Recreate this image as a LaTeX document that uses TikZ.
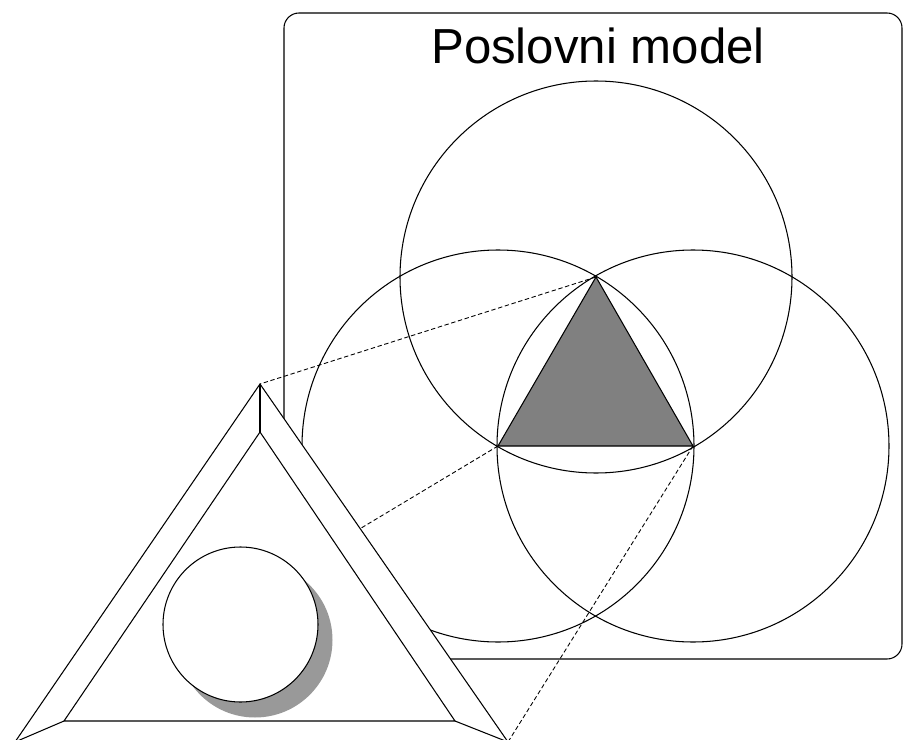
\documentclass[tikz,border=0pt]{standalone}
\usepackage{fontspec}
\setmainfont{Liberation Sans}
\usetikzlibrary{positioning, calc}

\begin{document}
\begin{tikzpicture}[
    x=0.02cm, y=-0.02cm,
    line width=0.6pt,
    framest/.style={draw, rounded corners=0.3cm},
    titlest/.style={inner sep=0pt, font=\fontsize{28}{34}\selectfont},
    vennst/.style={draw},
    corest/.style={draw, fill=black!50},
    linkst/.style={draw, dashed, line width=0.5pt, dash pattern=on 2.5pt off 1.5pt},
    prismst/.style={draw, fill=white},
    shadowst/.style={fill=black!40},
    discst/.style={draw, fill=white},
  ]
  \useasboundingbox (0,0) rectangle (903,740);
  %% Frame and title
  \draw[framest] (284,13) rectangle (902,659);
  \node[titlest, anchor=base] (title) at (598,64) {Poslovni model};
  %% Three circles around the core triangle
  \coordinate (top) at (596,277);
  \coordinate (left) at (498,446);
  \coordinate (right) at (693,446);
  \draw[vennst] (top) circle (196);
  \draw[vennst] (left) circle (196);
  \draw[vennst] (right) circle (196);
  \draw[corest] (top) -- (left) -- (right) -- cycle;
  %% Bevelled triangle
  \coordinate (apex) at (260,384);
  \coordinate (obl) at (15,742);
  \coordinate (obr) at (508,742);
  \coordinate (iapex) at (260,432);
  \coordinate (ibl) at (64,721);
  \coordinate (ibr) at (455,721);
  \coordinate (edge) at ($(apex)!0.404!(obr)$);
  %% Dashed links
  \draw[linkst] (top) -- (apex);
  \draw[linkst] (left) -- (edge);
  \draw[linkst] (right) -- (obr);
  \draw[prismst] (apex) -- (obl) -- (obr) -- cycle;
  \draw (iapex) -- (ibl) -- (ibr) -- cycle;
  \draw (apex) -- (iapex);
  \draw (obl) -- (ibl);
  \draw (obr) -- (ibr);
  %% Disc with shadow
  \fill[shadowst] (255,640) circle (77.5);
  \draw[discst] (240.5,624.5) circle (77.5);
\end{tikzpicture}
\end{document}
